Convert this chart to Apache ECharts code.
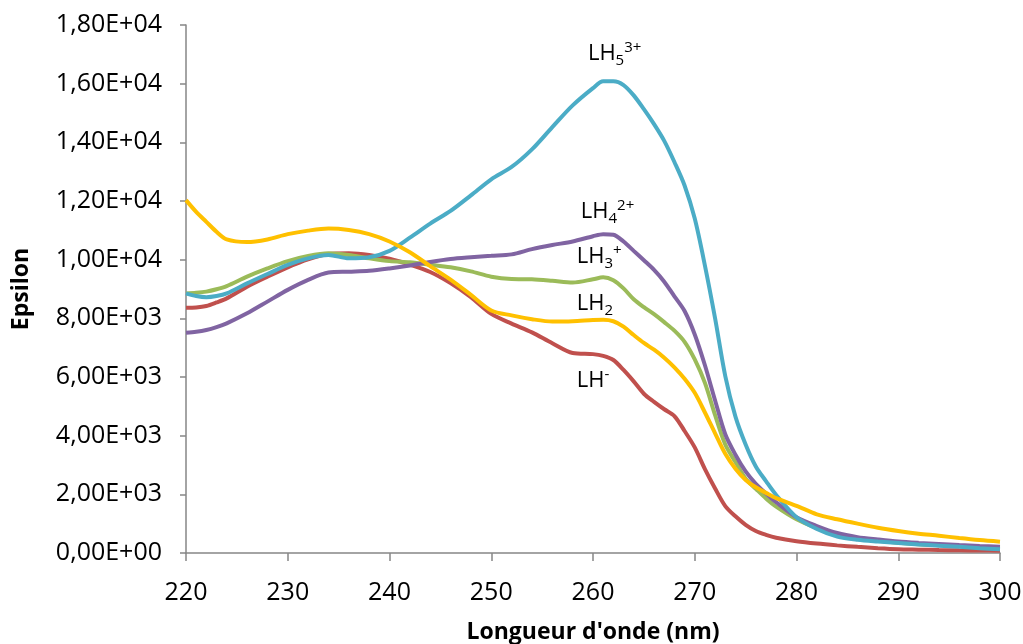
<!DOCTYPE html>
<html>
<head>
<meta charset="utf-8">
<script src="https://cdn.jsdelivr.net/npm/echarts@6/dist/echarts.min.js"></script>
<style>
html,body{margin:0;padding:0;background:#fff;}
#chart{width:1023px;height:644px;}
</style>
</head>
<body>
<div id="chart"></div>
<script>
// Wavelengths (nm)
const wavelengths = [220,221,222,223,224,226,228,230,232,234,236,238,240,242,244,246,248,250,252,254,256,258,260,
  261,262,263,264,265,266,267,268,269,270,271,272,273,274,275,276,277,278,
  280,282,284,286,288,290,292,294,296,298,300];

// LH- (red)
const lhMinus = [8360,8370,8420,8540,8680,9080,9420,9740,10010,10190,10215,10160,10030,9830,9580,9200,8720,8150,7820,7520,7150,6820,6780,
  6720,6580,6240,5850,5430,5150,4900,4670,4160,3600,2860,2200,1600,1250,960,750,620,520,
  400,320,260,210,165,130,115,100,90,85,80];

// LH2 (yellow)
const lh2 = [12030,11630,11290,10950,10690,10600,10690,10870,10990,11060,11010,10870,10620,10250,9780,9320,8800,8270,8100,7970,7890,7900,7940,
  7950,7900,7715,7430,7160,6930,6660,6330,5940,5460,4790,4080,3380,2870,2490,2240,2050,1870,
  1610,1320,1150,1000,860,750,660,590,510,440,385];

// LH3+ (green)
const lh3 = [8850,8870,8910,8990,9100,9420,9700,9950,10125,10215,10160,10045,9950,9910,9830,9740,9600,9420,9340,9330,9280,9220,9330,
  9400,9300,9020,8650,8380,8140,7870,7580,7200,6600,5800,4700,3700,3100,2530,2190,1860,1580,
  1150,850,640,510,420,350,300,265,235,205,180];

// LH4 2+ (purple)
const lh4 = [7510,7540,7600,7700,7830,8170,8570,8970,9310,9560,9590,9620,9700,9800,9920,10020,10080,10130,10180,10360,10500,10620,10800,
  10870,10850,10620,10300,9980,9650,9250,8750,8250,7450,6400,5200,4050,3350,2780,2360,2030,1730,
  1220,920,680,540,460,390,345,310,270,240,215];

// LH5 3+ (cyan)
const lh5 = [8850,8760,8720,8760,8850,9190,9510,9820,10045,10160,10045,10080,10300,10750,11230,11660,12190,12740,13160,13760,14520,15260,15850,
  16080,16080,15950,15600,15130,14620,14050,13330,12530,11400,9800,8000,6030,4650,3700,2950,2450,1980,
  1220,820,560,450,390,340,290,250,210,165,125];

// Label anchors (data coordinates) and texts
const labelAnchors = [[258.4,5863],[258.4,8513],[258.4,10108],[258.8,11635],[259.5,17035]];
const labelRich = ['{m|LH}{sup|-}','{m|LH}{sub|2}','{m|LH}{sub|3}{sup|+}','{m|LH}{sub|4}{sup|2+}','{m|LH}{sub|5}{sup|3+}'];

const FONT = 'Open Sans';

function sci(v){
  if (v === 0) return '0,00E+00';
  const e = Math.floor(Math.log10(Math.abs(v)) + 1e-9);
  const m = (v/Math.pow(10,e)).toFixed(2).replace('.', ',');
  return m + 'E' + (e<0?'-':'+') + String(Math.abs(e)).padStart(2,'0');
}

const rich = {
  m:{fontSize:22, lineHeight:40, fontFamily:FONT, color:'#000', verticalAlign:'middle'},
  sub:{fontSize:15, height:25, fontFamily:FONT, color:'#000', verticalAlign:'bottom'},
  sup:{fontSize:15, height:28, fontFamily:FONT, color:'#000', verticalAlign:'top'}
};

function mk(name, values, color, labelIdx){
  return {
    name: name,
    type: 'line',
    showSymbol: false,
    smooth: 0.3,
    data: wavelengths.map((w,i)=>[w, values[i]]),
    lineStyle: {width: 4, color: color},
    itemStyle: {color: color},
    markPoint: {
      silent: true,
      symbol: 'circle',
      symbolSize: 0,
      data: [{coord: labelAnchors[labelIdx]}],
      label: {show: true, position: 'right', distance: 0, formatter: labelRich[labelIdx], rich: rich}
    }
  };
}

const chart = echarts.init(document.getElementById('chart'), null, {renderer:'canvas'});
chart.setOption({
  animation: false,
  backgroundColor: '#fff',
  grid: {left: 186, right: 23, top: 25, bottom: 91, containLabel: false, outerBoundsMode: 'none'},
  xAxis: {
    type: 'value', min: 220, max: 300, interval: 10,
    name: "Longueur d'onde (nm)", nameLocation: 'middle', nameGap: 68,
    nameTextStyle: {fontFamily: FONT, fontWeight: 'bold', fontSize: 23, color: '#000'},
    axisLine: {show: true, onZero: false, lineStyle: {color: '#868686', width: 1.5}},
    axisTick: {show: true, length: 8, lineStyle: {color: '#868686', width: 1.5}},
    axisLabel: {fontFamily: FONT, fontSize: 25, color: '#000', margin: 27},
    splitLine: {show: false}
  },
  yAxis: {
    type: 'value', min: 0, max: 18000, interval: 2000,
    name: 'Epsilon', nameLocation: 'middle', nameGap: 153, nameRotate: 90,
    nameTextStyle: {fontFamily: FONT, fontWeight: 'bold', fontSize: 23, color: '#000'},
    axisLine: {show: true, lineStyle: {color: '#868686', width: 1.5}},
    axisTick: {show: true, length: 6, lineStyle: {color: '#868686', width: 1.5}},
    axisLabel: {fontFamily: FONT, fontSize: 25, color: '#000', margin: 24, formatter: sci},
    splitLine: {show: false}
  },
  series: [
    mk('LH-', lhMinus, '#C0504D', 0),
    mk('LH3+', lh3, '#9BBB59', 2),
    mk('LH4 2+', lh4, '#8064A2', 3),
    mk('LH5 3+', lh5, '#4BACC6', 4),
    mk('LH2', lh2, '#FFC000', 1)
  ]
});
</script>
</body>
</html>
